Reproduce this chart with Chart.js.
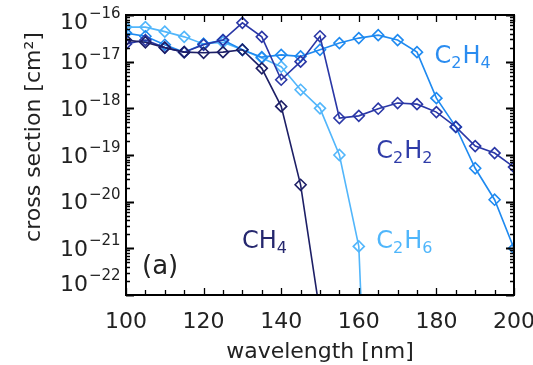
<!DOCTYPE html>
<html>
<head>
<meta charset="utf-8">
<script src="https://cdn.jsdelivr.net/npm/chart.js@4/dist/chart.umd.min.js"></script>
<style>html,body{margin:0;padding:0;background:#fff;}canvas{display:block;}</style>
</head>
<body>
<canvas id="c" width="533" height="365"></canvas>
<script>
// ---- data ----
const wavelengths = [100,105,110,115,120,125,130,135,140,145,150,155,160,165,170,175,180,185,190,195,200];
const ch4  = [2.9e-17,2.6e-17,2.0e-17,1.6e-17,1.55e-17,1.6e-17,1.8e-17,7.2e-18,1.1e-18,2.3e-20,4e-23,null,null,null,null,null,null,null,null,null,null];
const c2h2 = [2.4e-17,2.9e-17,2.0e-17,1.6e-17,2.3e-17,2.9e-17,6.8e-17,3.4e-17,4.1e-18,1.0e-17,3.5e-17,6.2e-19,6.9e-19,9.8e-19,1.3e-18,1.23e-18,8.3e-19,4.0e-19,1.55e-19,1.1e-19,5.5e-20];
const c2h4 = [4.1e-17,3.5e-17,2.3e-17,1.6e-17,2.4e-17,2.9e-17,1.8e-17,1.25e-17,1.4e-17,1.3e-17,1.8e-17,2.5e-17,3.2e-17,3.7e-17,2.9e-17,1.6e-17,1.65e-18,4.0e-19,5.2e-20,1.1e-20,1.0e-21];
const c2h6 = [5.5e-17,5.5e-17,4.4e-17,3.4e-17,2.4e-17,2.6e-17,1.8e-17,1.2e-17,7.8e-18,2.5e-18,1.0e-18,1.0e-19,1.1e-21,1e-31,null,null,null,null,null,null,null];
const xTickLabels = [100,120,140,160,180,200];
const yTickExponents = [-16,-17,-18,-19,-20,-21,-22];
const xTitle = "wavelength [nm]";
const yTitle = "cross section [cm²]";
const panelLabel = "(a)";

const colors = {ch4:'#1d1f66', c2h2:'#2a37a6', c2h4:'#1f8af0', c2h6:'#52b6fb'};

function pts(arr){ return wavelengths.map((w,i)=>({x:w,y:arr[i]})); }
function ds(label, arr, col){
  return {label, data: pts(arr), borderColor: col, backgroundColor:'rgba(0,0,0,0)',
    borderWidth:1.6, pointStyle:'rectRot', pointRadius:5.5, pointBorderWidth:1.6,
    pointBorderColor: col, pointBackgroundColor:'rgba(255,255,255,0)', tension:0, spanGaps:false};
}

// species labels in data coordinates: [main, sub, main, sub]
const speciesLabels = [
  {parts:['C','2','H','4'], x:179.5, y:9.3e-18, color:'#2a8cf0'},
  {parts:['C','2','H','2'], x:164.5, y:8.5e-20, color:'#2f3ca8'},
  {parts:['CH','4'],        x:129.9, y:1.0e-21, color:'#25276e'},
  {parts:['C','2','H','6'], x:164.5, y:1.0e-21, color:'#4fb6fb'}
];

const FONT = '"DejaVu Sans", sans-serif';

const decor = {
  id:'decor',
  afterDatasetsDraw(chart){
    const ctx = chart.ctx, a = chart.chartArea;
    const xs = chart.scales.x, ys = chart.scales.y;
    ctx.save();
    ctx.strokeStyle = '#000';
    ctx.fillStyle = '#222';
    // frame
    ctx.lineWidth = 2;
    ctx.strokeRect(a.left, a.top, a.right - a.left, a.bottom - a.top);
    ctx.lineWidth = 1.3;
    // x ticks (inward, top & bottom)
    for (let v = 100; v <= 200; v += 5) {
      const px = Math.round(xs.getPixelForValue(v)) + 0.5;
      const len = (v % 20 === 0) ? 7 : 5;
      ctx.beginPath();
      ctx.moveTo(px, a.bottom); ctx.lineTo(px, a.bottom - len);
      ctx.moveTo(px, a.top); ctx.lineTo(px, a.top + len);
      ctx.stroke();
    }
    // y ticks (inward, left & right), log minor ticks
    for (let e = -22; e <= -16; e++) {
      for (let m = 1; m <= 9; m++) {
        const v = m * Math.pow(10, e);
        if (v > 1.0001e-16) break;
        const py = Math.round(ys.getPixelForValue(v)) + 0.5;
        const len = (m === 1) ? 8 : 4;
        ctx.lineWidth = (m === 1) ? 2 : 1.3;
        ctx.beginPath();
        ctx.moveTo(a.left, py); ctx.lineTo(a.left + len, py);
        ctx.moveTo(a.right, py); ctx.lineTo(a.right - len, py);
        ctx.stroke();
      }
    }
    // x tick labels
    ctx.font = '22px ' + FONT;
    ctx.textAlign = 'center';
    ctx.textBaseline = 'middle';
    xTickLabels.forEach(v => {
      ctx.fillText(String(v), xs.getPixelForValue(v), a.bottom + 27);
    });
    // y tick labels 10^e
    yTickExponents.forEach(e => {
      let py = ys.getPixelForValue(Math.pow(10, e)) + 2;
      py = Math.min(Math.max(py, a.top + 8), a.bottom - 10);
      ctx.textAlign = 'left';
      ctx.font = '22px ' + FONT;
      ctx.fillText('10', 60, py);
      const w = ctx.measureText('10').width;
      ctx.font = '15px ' + FONT;
      ctx.fillText('\u2212' + String(-e), 60 + w + 1, py - 9);
    });
    // axis titles
    ctx.font = '22px ' + FONT;
    ctx.textAlign = 'center';
    ctx.fillText(xTitle, (a.left + a.right) / 2, 352);
    ctx.save();
    ctx.translate(34, 137);
    ctx.rotate(-Math.PI / 2);
    ctx.fillText(yTitle, 0, 0);
    ctx.restore();
    // panel label
    ctx.textAlign = 'left';
    ctx.textBaseline = 'alphabetic';
    ctx.font = '26px ' + FONT;
    ctx.fillText(panelLabel, 142, 274);
    // species labels
    speciesLabels.forEach(l => {
      let x = xs.getPixelForValue(l.x);
      const y = ys.getPixelForValue(l.y);
      ctx.fillStyle = l.color;
      l.parts.forEach((p, i) => {
        const sub = /^[0-9]$/.test(p);
        ctx.font = (sub ? '16px ' : '24px ') + FONT;
        ctx.fillText(p, x, sub ? y + 5 : y);
        x += ctx.measureText(p).width + (sub ? 1 : 0);
      });
    });
    ctx.restore();
  }
};

new Chart(document.getElementById('c'), {
  type: 'line',
  data: { datasets: [ ds('CH4', ch4, colors.ch4), ds('C2H2', c2h2, colors.c2h2), ds('C2H4', c2h4, colors.c2h4), ds('C2H6', c2h6, colors.c2h6) ] },
  options: {
    responsive: false, devicePixelRatio: 1, animation: false,
    layout: { padding: { left: 126, right: 19, top: 15, bottom: 70 } },
    plugins: { legend: { display: false }, tooltip: { enabled: false } },
    scales: {
      x: { type: 'linear', min: 100, max: 200, display: false },
      y: { type: 'logarithmic', min: 1e-22, max: 1e-16, display: false }
    }
  },
  plugins: [decor]
});
</script>
</body>
</html>
